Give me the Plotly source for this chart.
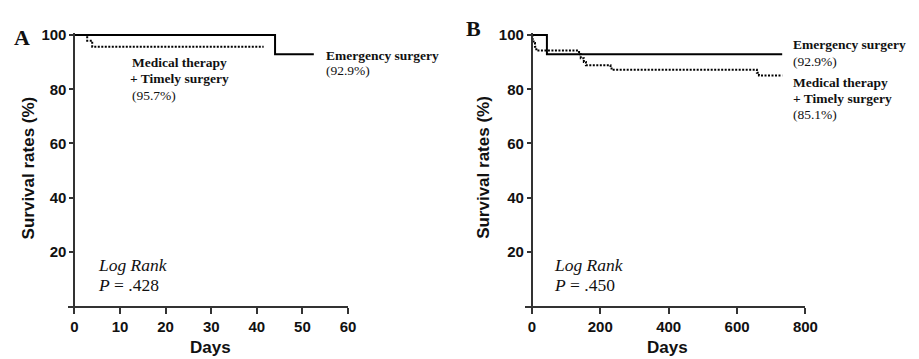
import plotly.graph_objects as go

W, H = 919, 359

# ---- data ----
a_emerg_days = [0, 44, 52.5]
a_emerg_surv = [100, 92.9, 92.9]
a_med_days = [0, 2.8, 3.9, 41.5]
a_med_surv = [100, 97.9, 95.7, 95.7]

b_emerg_days = [0, 44, 732]
b_emerg_surv = [100, 92.9, 92.9]
b_med_days = [0, 2, 5, 9, 13, 138, 143, 152, 158, 230, 236, 658, 664, 732]
b_med_surv = [100, 98.6, 97.1, 95.7, 94.3, 92.9, 91.5, 90.1, 88.9, 87.7, 87.2, 86.1, 85.1, 85.1]

y_ticks = [20, 40, 60, 80, 100]
a_x_ticks = [0, 10, 20, 30, 40, 50, 60]
b_x_ticks = [0, 200, 400, 600, 800]


def px(x):
    return x / W


def py(y):
    return 1 - y / H


SANS = "Liberation Sans"
SERIF = "Liberation Serif"

fig = go.Figure()

solid = dict(color="black", width=2, shape="hv")
dotted = dict(color="black", width=2, shape="hv", dash="2px,1.5px")

fig.add_trace(go.Scatter(x=a_emerg_days, y=a_emerg_surv, mode="lines", line=solid,
                         xaxis="x", yaxis="y", showlegend=False))
fig.add_trace(go.Scatter(x=a_med_days, y=a_med_surv, mode="lines", line=dotted,
                         xaxis="x", yaxis="y", showlegend=False))
fig.add_trace(go.Scatter(x=b_emerg_days, y=b_emerg_surv, mode="lines", line=solid,
                         xaxis="x2", yaxis="y2", showlegend=False))
fig.add_trace(go.Scatter(x=b_med_days, y=b_med_surv, mode="lines", line=dotted,
                         xaxis="x2", yaxis="y2", showlegend=False))

axis_common = dict(showgrid=False, zeroline=False, showline=True, linecolor="#333",
                   linewidth=2, ticks="outside", tickcolor="#333", tickwidth=1.5,
                   tickfont=dict(family=SANS, size=15, color="#111", weight="bold"))

ydom = [py(305), py(27)]

# x axes start ~6 px left of the y axis, as in the original
a_left, a_y0, a_right = 69, 75.5, 353
b_left, b_y0, b_right = 533, 539.5, 817
a_xmin = -60 * (a_y0 - a_left) / (a_right - a_y0)
b_xmin = -800 * (b_y0 - b_left) / (b_right - b_y0)

fig.update_layout(
    width=W, height=H,
    margin=dict(l=0, r=0, t=0, b=0),
    plot_bgcolor="white", paper_bgcolor="white",
    xaxis=dict(domain=[px(a_left), px(a_right)], range=[a_xmin, 60], tickvals=a_x_ticks,
               ticklen=6, anchor="y", **axis_common),
    yaxis=dict(domain=ydom, range=[0, 100.6], tickvals=y_ticks, ticklen=4,
               anchor="free", position=px(a_y0), **axis_common),
    xaxis2=dict(domain=[px(b_left), px(b_right)], range=[b_xmin, 800], tickvals=b_x_ticks,
                ticklen=6, anchor="y2", **axis_common),
    yaxis2=dict(domain=ydom, range=[0, 100.6], tickvals=y_ticks, ticklen=4,
                anchor="free", position=px(b_y0), **axis_common),
)

anns = []


def txt(x, y, text, size=13.5, family=SERIF, xanchor="left", bold=False, italic=False, angle=0):
    anns.append(dict(x=px(x), y=py(y), xref="paper", yref="paper", text=text,
                     showarrow=False, xanchor=xanchor, yanchor="middle", textangle=angle,
                     font=dict(family=family, size=size, color="#111",
                               weight="bold" if bold else "normal",
                               style="italic" if italic else "normal")))


# panel letters
txt(12, 31, "A", size=22, bold=True)
txt(471, 22, "B", size=22, bold=True)

# axis titles
for cx in (214, 677):
    txt(cx, 347, "Days", size=17, family=SANS, xanchor="center", bold=True)
txt(29, 164, "Survival rates (%)", size=17, family=SANS, xanchor="center", bold=True, angle=-90)
txt(491, 164, "Survival rates (%)", size=17, family=SANS, xanchor="center", bold=True, angle=-90)

# panel A labels
txt(132, 57, "Medical therapy", bold=True)
txt(130, 73, "+ Timely surgery", bold=True)
txt(132, 90, "(95.7%)")
txt(329, 49, "Emergency surgery", bold=True)
txt(329, 65, "(92.9%)")
txt(97, 263, "Log Rank", size=17.5, italic=True)
txt(97, 284, "<i>P</i> = .428", size=17.5)

# panel B labels
txt(802, 38, "Emergency surgery", bold=True)
txt(802, 56, "(92.9%)")
txt(802, 77, "Medical therapy", bold=True)
txt(802, 93, "+ Timely surgery", bold=True)
txt(802, 110, "(85.1%)")
txt(560, 263, "Log Rank", size=17.5, italic=True)
txt(560, 284, "<i>P</i> = .450", size=17.5)

fig.update_layout(annotations=anns)

# remove the default page margin so the figure sits at the window's top-left corner
fig.write_html("out.html",
               config={"displayModeBar": False},
               post_script="document.body.style.margin='0';document.body.style.overflow='hidden';")
